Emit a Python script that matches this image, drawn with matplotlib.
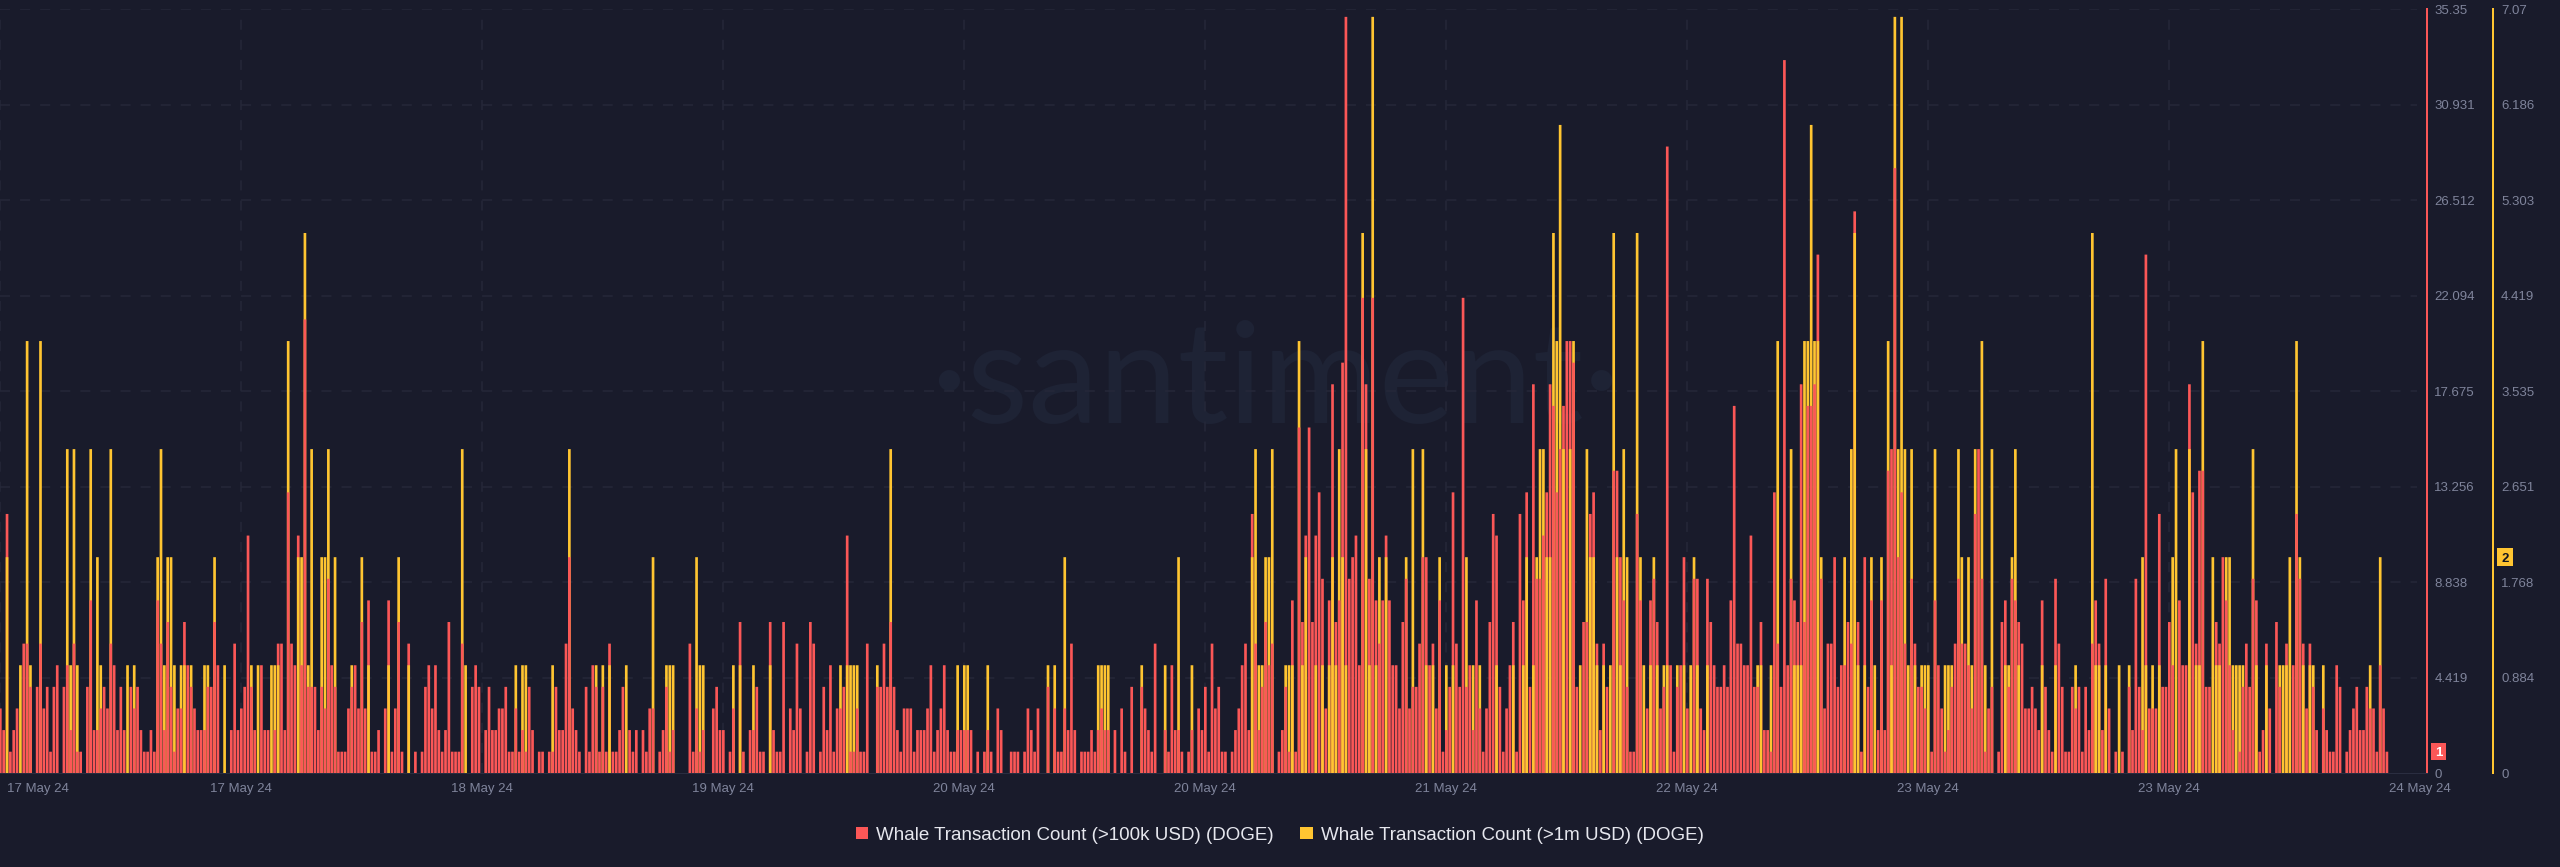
import numpy as np
import matplotlib
matplotlib.use("Agg")
import matplotlib.pyplot as plt
from matplotlib.patches import Rectangle
from matplotlib.transforms import ScaledTranslation

red_counts = [
    3,2,12,1,2,3,0,6,6,4, 0,4,6,3,4,1,4,5,0,4, 5,2,6,1,1,0,4,8,2,2, 3,4,3,6,5,2,4,2,0,4,
    3,4,2,1,1,2,1,8,6,2, 7,4,1,3,3,7,5,4,3,2, 2,2,4,4,7,5,0,0,0,2, 6,2,3,4,11,4,2,0,5,2,
    2,0,2,6,6,2,13,6,5,11, 5,21,4,4,4,2,4,3,9,5, 4,1,1,1,3,4,5,3,7,3, 8,1,1,2,0,3,8,1,3,7,
    1,0,6,0,1,0,1,4,5,3, 5,2,1,2,7,1,1,1,6,0, 0,4,5,4,0,2,4,2,2,3,
    3,4,1,1,3,1,2,1,4,2, 0,1,1,0,1,1,4,2,2,6, 10,3,2,1,0,4,1,5,4,1, 4,1,6,1,1,2,4,0,2,1,
    2,0,2,1,3,3,0,1,2,4, 1,2,0,0,0,0,6,1,3,1, 2,0,0,3,4,2,2,0,1,3, 0,7,1,0,2,2,4,1,1,0,
    7,2,1,1,7,0,3,2,6,3, 0,1,7,6,0,1,4,2,5,1, 3,3,4,11,1,1,3,1,1,6, 0,0,4,4,6,4,7,4,2,
    1, 3,3,3,1,2,2,2,3,5,1, 2,3,5,2,1,1,2,2,2,2, 2,0,1,0,1,2,1,0,3,2, 0,0,1,1,1,0,1,3,2,1,
    3,0,0,4,0,3,1,1,3,2, 6,2,0,1,1,1,2,1,2,3, 2,2,0,2,0,3,1,0,4,0, 0,4,3,2,1,6,0,0,2,1,
    5,2,2,1,0,1,2,0,3,2, 4,1,6,3,4,1,1,0,1,2, 3,5,6,2,12,6,2,4,7,5, 6,0,1,2,4,1,8,1,16,
    7, 11,16,7,11,13,9,3,8,18,7, 8,19,35,9,10,11,5,22,18,9, 22,8,6,8,11,8,5,5,3,7,
    9,3,4,4,6,10,10,5,6,3, 8,1,2,4,13,6,4,22,4,5, 2,8,3,1,3,7,12,11,4,1, 3,5,7,1,12,8,13,4,18,9,
    9,11,13,18,17,13,15,17,20,20, 19,4,0,7,7,12,13,6,2,6, 4,0,14,14,10,8,4,1,1,12, 8,0,3,8,9,7,3,
    4,29,5, 1,4,5,10,3,0,9,9,3,2, 9,7,5,4,4,5,4,8,17,6, 6,5,5,11,4,4,7,2,2,1,
    13,6,4,33,5,9,8,7,18,7, 17,17,18,24,9,3,6,6,10,4, 5,5,7,6,26,7,1,10,4,8, 0,2,8,2,14,15,28,10,13,6,
    0,9,6,4,4,3,0,1,8,5, 3,1,2,4,6,9,6,6,5,3, 12,15,9,1,3,4,0,1,7,8, 4,9,8,7,
    6,3,3,4,3,2, 8,4,2,1,9,6,4,1,1,4, 3,4,1,4,2,6,8,6,2,9, 3,0,1,0,1,0,4,2,9,4,
    2,24,3,3,3,12,4,4,7,5, 0,8,5,5,18,13,6,14,14,4, 4,0,7,6,10,8,5,2,0,1, 4,6,4,9,8,1,2,6,3,0,
    7,4,0,6,0,5,12,9,6,3, 6,4,2,0,3,2,1,1,5,4, 0,1,2,3,4,2,2,4,3,3, 1,5,3,1,
]

yellow_counts = [
    0,0,2,0,0,0,1,0,4,1, 0,0,4,0,0,0,0,0,0,0, 3,1,3,1,0,0,0,3,0,2, 1,0,0,3,0,0,0,0,1,0,
    1,0,0,0,0,0,0,2,3,1, 2,2,1,0,1,1,0,1,0,0, 0,1,1,0,2,0,0,1,0,0, 0,0,0,0,0,1,0,1,0,0,
    0,1,1,1,0,0,4,0,0,2, 2,5,1,3,0,0,2,2,3,0, 2,0,0,0,0,1,0,0,2,0, 1,0,0,0,0,0,1,0,0,2,
    0,0,1,0,0,0,0,0,0,0, 0,0,0,0,0,0,0,0,3,1, 0,0,0,0,0,0,0,0,0,0,
    0,0,0,0,1,0,1,1,0,0, 0,0,0,0,0,1,0,0,0,0, 3,0,0,0,0,0,0,0,1,0, 1,0,1,0,0,0,0,1,0,0,
    0,0,0,0,0,2,0,0,0,1, 1,1,0,0,0,0,0,0,2,1, 1,0,0,0,0,0,0,0,0,1, 0,1,0,0,0,1,0,0,0,0,
    1,0,0,0,0,0,0,0,0,0, 0,0,0,0,0,0,0,0,0,0, 0,1,0,1,1,1,1,0,0,0, 0,0,1,0,0,0,3,0,0,
    0, 0,0,0,0,0,0,0,0,0,0, 0,0,0,0,0,0,1,0,1,1, 0,0,0,0,0,1,0,0,0,0, 0,0,0,0,0,0,0,0,0,0,
    0,0,0,1,0,1,0,0,2,0, 0,0,0,0,0,0,0,0,1,1, 1,1,0,0,0,0,0,0,0,0, 0,1,0,0,0,0,0,0,1,0,
    0,0,2,0,0,0,1,0,0,0, 0,0,0,0,0,0,0,0,0,0, 0,0,0,0,2,3,1,1,2,2, 3,0,0,0,1,1,1,0,4,
    1, 2,0,0,1,0,1,0,1,2,1, 3,2,1,0,0,0,0,5,3,1, 7,1,2,0,2,0,0,0,0,0,
    2,0,3,0,0,3,1,0,1,0, 2,0,1,0,1,0,0,0,2,0, 1,0,1,0,0,0,0,1,0,0, 0,0,1,0,0,1,2,0,1,2,
    3,3,2,2,5,4,6,3,0,3, 4,0,1,0,3,2,2,1,0,1, 0,1,5,2,1,3,2,0,0,5, 2,1,0,1,2,1,0,
    1,1,0, 0,1,0,1,0,1,2,1,0,0, 1,0,0,0,0,0,0,0,0,0, 0,0,0,0,0,1,1,0,0,1,
    0,4,0,0,0,3,1,1,1,4, 4,6,4,4,2,0,0,0,0,0, 0,2,0,3,5,1,0,1,0,2, 1,0,2,0,4,1,7,3,7,3,
    1,3,1,0,1,1,1,0,3,0, 0,1,1,1,0,3,2,0,2,1, 3,0,4,1,0,3,0,0,0,1, 1,2,3,1,
    0,0,0,0,0,0, 1,0,0,0,1,0,0,0,0,0, 1,0,0,0,0,5,1,1,0,1, 0,0,0,1,0,0,1,0,0,0,
    2,1,0,1,0,1,0,0,0,2, 3,0,0,0,3,0,1,1,4,0, 0,2,1,1,0,2,2,1,1,1, 1,0,0,3,1,0,0,1,0,0,
    0,1,1,1,2,0,4,2,1,0, 1,1,0,0,1,0,0,0,0,0, 0,0,0,0,0,0,0,0,1,0, 0,2,0,0,
]

date_labels = ["17 May 24", "17 May 24", "18 May 24", "19 May 24", "20 May 24", "20 May 24",
               "21 May 24", "22 May 24", "23 May 24", "23 May 24", "24 May 24"]
red_ticks = [0, 4.419, 8.838, 13.256, 17.675, 22.094, 26.512, 30.931, 35.35]
yellow_ticks = [0, 0.884, 1.768, 2.651, 3.535, 4.419, 5.303, 6.186, 7.07]
red_name = "Whale Transaction Count (>100k USD) (DOGE)"
yellow_name = "Whale Transaction Count (>1m USD) (DOGE)"
latest_red = 1
latest_yellow = 2

BG = "#191b2b"
RED = "#fb5757"
YEL = "#ffc531"
TXT = "#7f849b"
GRID = "#252839"
W, H = 2560, 867
PITCH = 241 / 72          # px per bar
BAR_W = 0.8
PT = 72 / 100

plt.rcParams["font.family"] = ["Liberation Sans", "DejaVu Sans"]

red = np.array(red_counts, float)
yel = np.array(yellow_counts, float)
n = min(len(red), len(yel))
red, yel = red[:n], yel[:n]
x = np.arange(n)
y_red_max, y_yel_max = red_ticks[-1], yellow_ticks[-1]
yel_taller = yel / y_yel_max >= red / y_red_max

fig = plt.figure(figsize=(W / 100, H / 100), dpi=100, facecolor=BG)
left, right, top, bottom = 0.0, 2426.7, 9.3, 773.3
rect = [left / W, 1 - bottom / H, (right - left) / W, (bottom - top) / H]
ax = fig.add_axes(rect)
ax.set_xlim(-0.1, (right - left) / PITCH - 0.1)
ax.set_ylim(0, y_red_max)
ax.patch.set_visible(False)
ax.set_zorder(2)

ax_low = ax.twinx()
ax_low.set_ylim(0, y_yel_max)
ax_low.patch.set_visible(False)
ax_low.set_zorder(1)
ax_top = ax.twinx()
ax_top.set_ylim(0, y_yel_max)
ax_top.patch.set_visible(False)
ax_top.set_zorder(3)
ax_top.axis("off")

# the shorter bar of each pair sits on top of the taller one
yel_bars = ax_low.bar(x[yel_taller], yel[yel_taller], width=BAR_W, color=YEL, linewidth=0, snap=False)
red_bars = ax.bar(x, red, width=BAR_W, color=RED, linewidth=0, snap=False)
ax_top.bar(x[~yel_taller], yel[~yel_taller], width=BAR_W, color=YEL, linewidth=0, snap=False)

# grid
grid_x = np.arange(0, 649, 72)
grid_end = (2417 - left) / PITCH
ax_low.set_xlim(ax.get_xlim())
dash = (0, (9.3 * PT / 1.0, 9.3 * PT / 1.0))
ax.set_axisbelow(True)
gridax = fig.add_axes(rect, sharex=ax, sharey=ax, zorder=0)
gridax.patch.set_visible(False)
gridax.axis("off")
gridax.hlines(red_ticks[1:], -0.1, grid_end, color=GRID, lw=1.5 * PT, linestyles=dash)
gridax.vlines(grid_x, 0, y_red_max, color=GRID, lw=1.5 * PT, linestyles=dash)

# axes
for s in ("left", "top"):
    for a in (ax, ax_low):
        a.spines[s].set_visible(False)
ax.spines["bottom"].set_color("#2a2d40")
ax.spines["bottom"].set_linewidth(1 * PT)
ax_low.spines["bottom"].set_visible(False)
ax.spines["right"].set_color(RED)
ax.spines["right"].set_linewidth(2 * PT)
ax_low.spines["right"].set_color(YEL)
ax_low.spines["right"].set_linewidth(2 * PT)
ax_low.spines["right"].set_position(("outward", 66.3 * PT))

ax.yaxis.tick_right()
ax.set_yticks(red_ticks)
ax.set_yticklabels([f"{v:g}" for v in red_ticks])
ax_low.set_yticks(yellow_ticks)
ax_low.set_yticklabels([f"{v:g}" for v in yellow_ticks])
FS = 9.5
ax.tick_params(axis="y", length=0, pad=7.5 * PT, labelsize=FS, labelcolor=TXT)
ax_low.tick_params(axis="y", length=0, pad=8 * PT, labelsize=FS, labelcolor=TXT)

ax.set_xticks(np.arange(len(date_labels)) * 72)
ax.set_xticklabels(date_labels)
ax.tick_params(axis="x", length=0, pad=10 * PT, labelsize=FS, labelcolor=TXT)
labs = ax.get_xticklabels()
labs[0].set_transform(labs[0].get_transform() + ScaledTranslation(37.6 / 100, 0, fig.dpi_scale_trans))
labs[-1].set_transform(labs[-1].get_transform() + ScaledTranslation(10 / 100, 0, fig.dpi_scale_trans))

# latest value badges
fig.canvas.draw()
inv = fig.transFigure.inverted()
def badge(px_left, value_px_y, color, text, tcolor):
    bw, bh = 15.4, 17.4
    (fx, fy) = inv.transform((px_left, value_px_y - bh / 2))
    fig.add_artist(Rectangle((fx, fy), bw / W, bh / H, transform=fig.transFigure,
                             facecolor=color, edgecolor="none", zorder=10))
    fig.text(fx + bw / 2 / W, fy + bh / 2 / H, text, color=tcolor, fontsize=9.5,
             ha="center", va="center_baseline", fontweight="bold", zorder=11)
badge(2430.7, ax.transData.transform((0, latest_red))[1], RED, str(latest_red), "#ffffff")
badge(2497.2, ax_low.transData.transform((0, latest_yellow))[1], YEL, str(latest_yellow), "#15171f")

# watermark
fig.text(1275 / W, 1 - 423 / H, "·santiment·", color="#1e2335", fontsize=102,
         family=["Lato", "DejaVu Sans"], fontweight="normal",
         ha="center", va="baseline", zorder=-1)

# legend
fig.legend([red_bars, yel_bars], [red_name, yellow_name], loc="center",
           bbox_to_anchor=(1279.5 / W, 1 - 835 / H), ncol=2, frameon=False,
           fontsize=13.5, labelcolor="#e6e7ee", handlelength=0.65, handleheight=0.65,
           handletextpad=0.42, columnspacing=1.45, borderpad=0, borderaxespad=0)

fig.savefig("out.png", dpi=100, facecolor=BG)
